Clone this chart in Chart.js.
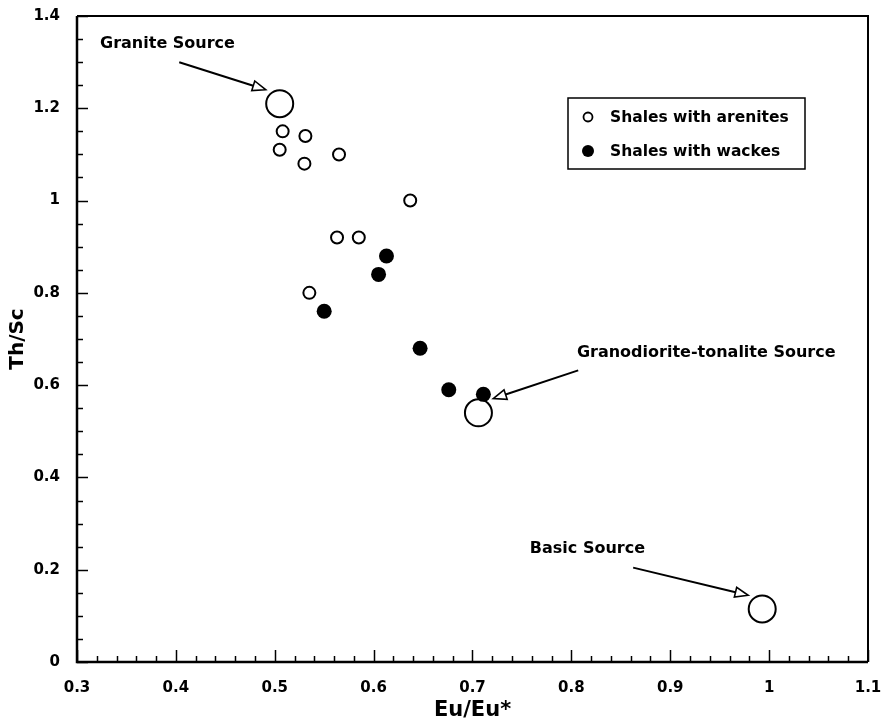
<!DOCTYPE html>
<html>
<head>
<meta charset="utf-8">
<script src="https://cdn.jsdelivr.net/npm/chart.js@4/dist/chart.umd.min.js"></script>
<style>
  html, body { margin: 0; padding: 0; background: #fff; }
  #wrap { width: 881px; height: 719px; }
</style>
</head>
<body>
<div id="wrap"><canvas id="c" width="881" height="719"></canvas></div>
<script>
// Eu/Eu* vs Th/Sc for the shale groups
const arenitesEu = [0.508, 0.531, 0.505, 0.530, 0.565, 0.637, 0.563, 0.585, 0.535];
const arenitesTh = [1.15, 1.14, 1.11, 1.08, 1.10, 1.00, 0.92, 0.92, 0.80];
const wackesEu = [0.613, 0.605, 0.550, 0.647, 0.676, 0.711];
const wackesTh = [0.88, 0.84, 0.76, 0.68, 0.59, 0.58];

// Reference source compositions
const sourceNames = ['Granite Source', 'Granodiorite-tonalite Source', 'Basic Source'];
const sourceEu = [0.505, 0.706, 0.993];
const sourceTh = [1.21, 0.54, 0.115];

const seriesNames = ['Shales with arenites', 'Shales with wackes'];
const xTickLabels = ['0.3', '0.4', '0.5', '0.6', '0.7', '0.8', '0.9', '1', '1.1'];
const yTickLabels = ['0', '0.2', '0.4', '0.6', '0.8', '1', '1.2', '1.4'];
const xTitle = 'Eu/Eu*';
const yTitle = 'Th/Sc';

// Callout label anchors and arrow ends, in axis units
const callouts = [
  { label: 0, text: [0.3233, 1.339], tail: [0.4034, 1.2997], tip: [0.4908, 1.2403] },
  { label: 1, text: [0.8056, 0.670], tail: [0.8069, 0.632], tip: [0.7210, 0.5707] },
  { label: 2, text: [0.7580, 0.2457], tail: [0.8625, 0.2045], tip: [0.9788, 0.1445] }
];

const FAMILY = "'DejaVu Sans', 'Liberation Sans', sans-serif";
const INK = '#000';

const pairs = (xs, ys) => xs.map((x, i) => ({ x, y: ys[i] }));

// Inward major/minor ticks plus the closed frame
const framePlugin = {
  id: 'frame',
  afterDraw(chart) {
    const { ctx, chartArea: a, scales: { x, y } } = chart;
    ctx.save();
    ctx.strokeStyle = INK;
    ctx.lineCap = 'butt';
    ctx.lineWidth = 1.5;
    const xStep = 0.02, yStep = 0.05;
    const nx = Math.round((x.max - x.min) / xStep);
    for (let k = 0; k <= nx; k++) {
      const px = Math.round(x.getPixelForValue(x.min + k * xStep)) + 0.5;
      const len = k % 5 === 0 ? 12 : 6;
      ctx.beginPath();
      ctx.moveTo(px, a.bottom);
      ctx.lineTo(px, a.bottom - len);
      ctx.stroke();
    }
    const ny = Math.round((y.max - y.min) / yStep);
    for (let k = 0; k <= ny; k++) {
      const py = Math.round(y.getPixelForValue(y.min + k * yStep)) + 0.5;
      const len = k % 4 === 0 ? 11 : 6;
      ctx.beginPath();
      ctx.moveTo(a.left, py);
      ctx.lineTo(a.left + len, py);
      ctx.stroke();
    }
    ctx.lineWidth = 2;
    ctx.beginPath();
    ctx.moveTo(a.left, a.top);
    ctx.lineTo(a.right, a.top);
    ctx.lineTo(a.right, a.bottom);
    ctx.stroke();
    ctx.lineWidth = 2.5;
    ctx.beginPath();
    ctx.moveTo(a.left, a.top);
    ctx.lineTo(a.left, a.bottom);
    ctx.lineTo(a.right, a.bottom);
    ctx.stroke();
    ctx.restore();
  }
};

// Source labels with open-headed arrows
const calloutPlugin = {
  id: 'callouts',
  afterDatasetsDraw(chart) {
    const { ctx, scales: { x, y } } = chart;
    ctx.save();
    ctx.fillStyle = INK;
    ctx.strokeStyle = INK;
    ctx.font = 'bold 16px ' + FAMILY;
    ctx.textAlign = 'left';
    ctx.textBaseline = 'middle';
    callouts.forEach(c => {
      ctx.fillText(sourceNames[c.label], x.getPixelForValue(c.text[0]), y.getPixelForValue(c.text[1]));
      const x0 = x.getPixelForValue(c.tail[0]), y0 = y.getPixelForValue(c.tail[1]);
      const x1 = x.getPixelForValue(c.tip[0]), y1 = y.getPixelForValue(c.tip[1]);
      const dx = x1 - x0, dy = y1 - y0, d = Math.hypot(dx, dy);
      const ux = dx / d, uy = dy / d;
      const head = 13, half = 5;
      const bx = x1 - ux * head, by = y1 - uy * head;
      ctx.lineWidth = 2;
      ctx.beginPath();
      ctx.moveTo(x0, y0);
      ctx.lineTo(bx, by);
      ctx.stroke();
      ctx.lineWidth = 1.6;
      ctx.beginPath();
      ctx.moveTo(x1, y1);
      ctx.lineTo(bx - uy * half, by + ux * half);
      ctx.lineTo(bx + uy * half, by - ux * half);
      ctx.closePath();
      ctx.fillStyle = '#fff';
      ctx.fill();
      ctx.stroke();
      ctx.fillStyle = INK;
    });
    ctx.restore();
  }
};

// Boxed legend inside the plot area
const legendPlugin = {
  id: 'boxLegend',
  afterDraw(chart) {
    const { ctx, chartArea: a } = chart;
    const left = a.right - 300, top = a.top + 82, w = 237, h = 71;
    ctx.save();
    ctx.strokeStyle = INK;
    ctx.lineWidth = 1.5;
    ctx.fillStyle = '#fff';
    ctx.fillRect(left, top, w, h);
    ctx.strokeRect(left, top, w, h);
    ctx.font = 'bold 15.5px ' + FAMILY;
    ctx.textBaseline = 'middle';
    ctx.textAlign = 'left';
    const rows = [19, 53];
    const markerR = [4.5, 6];
    chart.data.datasets.slice(0, 2).forEach((ds, i) => {
      const cy = top + rows[i];
      ctx.beginPath();
      ctx.arc(left + 20, cy, markerR[i], 0, Math.PI * 2);
      ctx.fillStyle = ds.pointBackgroundColor;
      ctx.fill();
      if (ds.pointBorderWidth > 0) {
        ctx.lineWidth = 1.8;
        ctx.strokeStyle = ds.pointBorderColor;
        ctx.stroke();
      }
      ctx.fillStyle = INK;
      ctx.fillText(ds.label, left + 42, cy + 1);
    });
    ctx.restore();
  }
};

const tickFont = { family: FAMILY, size: 15, weight: 'bold' };
const titleFont = (size) => ({ family: FAMILY, size, weight: 'bold', lineHeight: 1 });

new Chart(document.getElementById('c'), {
  type: 'scatter',
  data: {
    datasets: [
      {
        label: seriesNames[0],
        data: pairs(arenitesEu, arenitesTh),
        pointRadius: 6,
        pointBorderWidth: 2,
        pointBackgroundColor: '#fff',
        pointBorderColor: INK,
        order: 2
      },
      {
        label: seriesNames[1],
        data: pairs(wackesEu, wackesTh),
        pointRadius: 7.5,
        pointBorderWidth: 0,
        pointBackgroundColor: INK,
        pointBorderColor: INK,
        order: 1
      },
      {
        label: 'Sources',
        data: pairs(sourceEu, sourceTh),
        pointRadius: 13.5,
        pointBorderWidth: 2,
        pointBackgroundColor: '#fff',
        pointBorderColor: INK,
        order: 3
      }
    ]
  },
  options: {
    responsive: false,
    animation: false,
    devicePixelRatio: 1,
    events: [],
    layout: { autoPadding: false, padding: { top: 16, right: 13, left: 0, bottom: 0 } },
    plugins: { legend: { display: false }, tooltip: { enabled: false } },
    scales: {
      x: {
        type: 'linear',
        min: 0.3,
        max: 1.1,
        afterBuildTicks: s => { s.ticks = xTickLabels.map(t => ({ value: parseFloat(t) })); },
        afterFit: s => { s.height = 57; s.paddingLeft = 0; s.paddingRight = 0; },
        ticks: {
          callback: (v, i) => xTickLabels[i],
          font: tickFont,
          color: INK,
          padding: 17,
          maxRotation: 0,
          autoSkip: false
        },
        grid: { display: false, drawTicks: false, tickLength: 0 },
        border: { display: false },
        title: { display: true, text: xTitle, font: titleFont(21), color: INK, padding: { top: 0, bottom: -2 } }
      },
      y: {
        type: 'linear',
        min: 0,
        max: 1.4,
        afterBuildTicks: s => { s.ticks = yTickLabels.map(t => ({ value: parseFloat(t) })); },
        afterFit: s => { s.width = 77; s.paddingTop = 0; s.paddingBottom = 0; },
        ticks: {
          callback: (v, i) => yTickLabels[i],
          font: tickFont,
          color: INK,
          padding: 17,
          autoSkip: false
        },
        grid: { display: false, drawTicks: false, tickLength: 0 },
        border: { display: false },
        title: { display: true, text: yTitle, font: titleFont(20), color: INK, padding: { top: 7.5, bottom: 0 } }
      }
    }
  },
  plugins: [framePlugin, calloutPlugin, legendPlugin]
});
</script>
</body>
</html>
